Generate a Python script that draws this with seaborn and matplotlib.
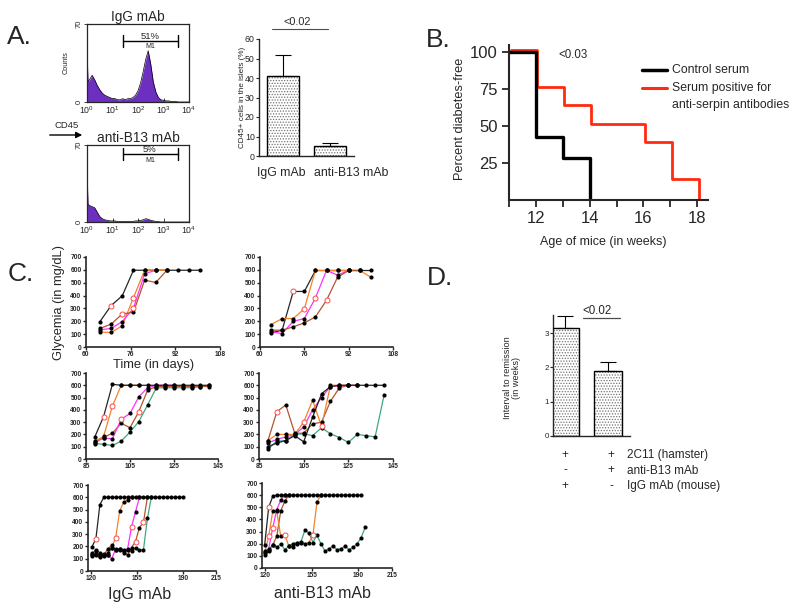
import numpy as np
import pandas as pd
import matplotlib
matplotlib.use("Agg")
import matplotlib.pyplot as plt
import seaborn as sns
from matplotlib.lines import Line2D
from matplotlib.patches import FancyArrowPatch, Rectangle
from matplotlib import transforms

nan = np.nan

# ---------------- Panel A: flow cytometry histograms ----------------
flow_log10 = [0.0, 0.04, 0.1, 0.2, 0.3, 0.4, 0.5, 0.6, 0.7, 0.8, 0.9, 1.0, 1.1, 1.2, 1.3,
              1.4, 1.5, 1.6, 1.7, 1.8, 1.9, 2.0, 2.1, 2.2, 2.3, 2.4, 2.5, 2.6, 2.7, 2.8,
              2.9, 3.0, 3.1, 3.2, 3.3, 3.4, 3.5, 3.6, 3.7, 3.8, 3.9, 4.0]
flow_igg = [50, 18, 20, 24, 20, 15, 11, 8, 6, 5, 4, 3, 3, 2, 2, 3, 2, 3, 3, 4, 6, 10,
            17, 27, 38, 46, 34, 18, 9, 4, 2, 1.5, 1, 1, 0.5, 0.5, 0.3, 0, 0, 0, 0, 0]
flow_b13 = [50, 16, 15, 14, 13, 9, 5, 3, 2, 1.5, 1, 1, 1, 0.5, 0.5, 0.5, 0.5, 0.5, 0.5,
            0.5, 1, 1, 1.5, 2, 3, 2.5, 1.5, 1, 0.5, 0.3, 0, 0, 0, 0, 0, 0, 0, 0, 0, 0, 0, 0]
flow_titles = ["IgG mAb", "anti-B13 mAb"]
flow_pct = ["51%", "5%"]

# Panel A bar chart
cd45_groups = ["IgG mAb", "anti-B13 mAb"]
cd45_mean = [41, 5]
cd45_err = [11, 1.5]

# ---------------- Panel B: survival ----------------
weeks_control = [11, 12, 13, 14]
free_control = [100, 42.9, 28.6, 0]
weeks_serpin = [11, 12, 13, 14, 16, 17, 18]
free_serpin = [100, 75, 62.5, 50, 37.5, 12.5, 0]

# ---------------- Panel C: glycemia ----------------
days_igg_1 = [65, 69, 73, 77, 81, 85, 89, 93, 97, 101]
igg_1_black = [198, 322, 399, 597, 597, 597, 597, 597, 597, 597]
igg_1_orange = [116, 113, 165, 384, 597, 597, 597, nan, nan, nan]
igg_1_magenta = [134, 144, 198, 301, 570, 597, nan, nan, nan, nan]
igg_1_brown = [144, 178, 257, 270, 520, 502, 597, nan, nan, nan]

days_b13_1 = [64, 68, 72, 76, 80, 84, 88, 92, 96, 100]
b13_1_black = [111, 131, 432, 432, 595, 595, 595, 595, 595, 595]
b13_1_orange = [175, 221, 221, 298, 595, 595, 595, 595, 595, 543]
b13_1_magenta = [118, 105, 200, 221, 381, 595, 560, 595, nan, nan]
b13_1_brown = [131, 131, 157, 188, 234, 363, 543, 595, 595, nan]

days_igg_2 = [89, 93, 97, 101, 105, 109, 113, 117, 121, 125, 129, 133, 137, 141]
igg_2_black = [180, 345, 608, 600, 600, 600, 600, 600, 600, 600, 600, 600, 600, 600]
igg_2_orange = [140, 185, 430, 600, 600, 600, nan, nan, nan, nan, nan, nan, nan, nan]
igg_2_magenta = [150, 170, 165, 323, 371, 506, 580, 600, 600, 600, nan, nan, nan, nan]
igg_2_brown = [130, 175, 210, 290, 255, 385, 560, 590, 590, 590, 590, 590, 590, 590]
igg_2_green = [125, 120, 110, 145, 220, 304, 440, 580, 580, 580, 580, 580, 590, 600]

days_b13_2 = [89, 93, 97, 101, 105, 109, 113, 117, 121, 125, 129, 133, 137, 141]
b13_2_black = [100, 130, 150, 190, 140, 340, 530, 590, 600, 600, 600, 600, 600, 600]
b13_2_orange = [150, 200, 200, 200, 300, 477, 266, 600, 600, 600, 600, nan, nan, nan]
b13_2_magenta = [130, 160, 180, 200, 260, 400, 500, 590, 595, 600, 600, nan, nan, nan]
b13_2_brown = [150, 385, 440, 210, 210, 285, 300, 470, 580, 600, nan, nan, nan, nan]
b13_2_green = [80, 145, 150, 200, 205, 190, 255, 205, 175, 135, 200, 190, 180, 520]

days_igg_3 = [121, 124, 127, 130, 133, 136, 139, 142, 145, 148, 151, 154, 157, 160,
              163, 166, 169, 172, 175, 178, 181, 184, 187, 190]
igg_3_black = [196, 264, 540, 600, 600, 600, 600, 600, 600, 600, 600, 600, 600, 600,
               600, 600, 600, 600, 600, 600, 600, 600, 600, 600]
igg_3_orange = [150, 160, 140, 130, 150, 190, 272, 490, 560, 580, 600, nan, nan, nan,
                nan, nan, nan, nan, nan, nan, nan, nan, nan, nan]
igg_3_magenta = [130, 140, 120, 140, 130, 100, 180, 170, 170, 180, 360, 482, 600, nan,
                 nan, nan, nan, nan, nan, nan, nan, nan, nan, nan]
igg_3_brown = [120, 130, 110, 130, 180, 210, 170, 180, 160, 130, 190, 240, 354, 395,
               600, nan, nan, nan, nan, nan, nan, nan, nan, nan]
igg_3_green = [140, 170, 150, 120, 130, 190, 170, 180, 150, 170, 160, 190, 170, 170,
               428, 600, nan, nan, nan, nan, nan, nan, nan, nan]

days_b13_3 = [120, 123, 126, 129, 132, 135, 138, 141, 144, 147, 150, 153, 156, 159,
              162, 165, 168, 171, 174, 177, 180, 183, 186, 189, 192, 195]
b13_3_black = [192, 500, 590, 600, 600, 600, 600, 600, 600, 600, 600, 600, 600, 600,
               600, 600, 600, 600, 600, 600, 600, 600, 600, 600, 600, nan]
b13_3_orange = [124, 261, 467, 467, 260, 275, 180, 170, 200, 210, 200, 210, 270, 543,
                600, nan, nan, nan, nan, nan, nan, nan, nan, nan, nan, nan]
b13_3_magenta = [130, 160, 330, 480, 560, 600, nan, nan, nan, nan, nan, nan, nan, nan,
                 nan, nan, nan, nan, nan, nan, nan, nan, nan, nan, nan, nan]
b13_3_brown = [110, 140, 190, 260, 470, 550, 600, nan, nan, nan, nan, nan, nan, nan,
               nan, nan, nan, nan, nan, nan, nan, nan, nan, nan, nan, nan]
b13_3_green = [140, 150, 190, 170, 200, 150, 180, 200, 210, 215, 310, 290, 210, 270,
               200, 140, 160, 180, 150, 160, 180, 150, 170, 200, 250, 335]

# indices of points drawn as open red circles
rings_igg_1 = {"black": [1], "orange": [3], "magenta": [3], "brown": [2]}
rings_b13_1 = {"black": [2], "orange": [3], "magenta": [4], "brown": [5]}
rings_igg_2 = {"black": [1], "orange": [2], "magenta": [3], "brown": [5]}
rings_b13_2 = {"orange": [4, 6], "brown": [1]}
rings_igg_3 = {"black": [1], "orange": [6], "magenta": [10], "brown": [11, 13]}
rings_b13_3 = {"black": [1], "orange": [1, 5, 12], "magenta": [2]}

# ---------------- Panel D ----------------
remission_groups = ["2C11 + IgG", "2C11 + anti-B13"]
remission_mean = [3.15, 1.9]
remission_err = [0.35, 0.25]
table_rows = ["2C11 (hamster)", "anti-B13 mAb", "IgG mAb (mouse)"]
table_igg = ["+", "-", "+"]
table_b13 = ["+", "+", "-"]

# ================= drawing =================
sns.set_theme(style="ticks")
plt.rcParams["font.family"] = ["Liberation Sans", "DejaVu Sans"]
plt.rcParams["hatch.linewidth"] = 0.6
plt.rcParams["axes.linewidth"] = 1.0

W, H = 800, 609
fig = plt.figure(figsize=(W / 100, H / 100), dpi=100)


def px_axes(x0, y0, x1, y1):
    return fig.add_axes([x0 / W, 1 - y1 / H, (x1 - x0) / W, (y1 - y0) / H])


def ptext(x, y, s, **kw):
    kw.setdefault("ha", "center")
    kw.setdefault("va", "center")
    return fig.text(x / W, 1 - y / H, s, **kw)


PURPLE = "#6c2fc0"

# ---- A histograms ----
hist_boxes = [(87, 24, 189, 102), (87, 145, 189, 222)]
for box, counts, title, pct in zip(hist_boxes, [flow_igg, flow_b13], flow_titles, flow_pct):
    ax = px_axes(*box)
    ax.set_xscale("log")
    xs = [10 ** v for v in flow_log10]
    ax.fill_between(xs, 0, counts, color=PURPLE, lw=0)
    sns.lineplot(x=xs, y=counts, color="black", lw=0.5, ax=ax, estimator=None, sort=False)
    ax.set_xlim(1, 1e4)
    ax.set_ylim(0, 70)
    ax.set_yticks([0, 70])
    ax.set_xticks([1, 10, 100, 1000, 10000])
    ax.tick_params(axis="x", which="both", direction="in", labelsize=6.3, pad=2, width=0.6)
    ax.tick_params(axis="x", which="major", length=3)
    ax.tick_params(axis="x", which="minor", length=1.5)
    ax.tick_params(axis="y", labelsize=5.5, length=2, width=0.6, pad=1)
    for t in ax.get_yticklabels():
        t.set_rotation(90)
        t.set_va("center")
    ax.set_ylabel("")
    for s in ax.spines.values():
        s.set_linewidth(0.9)
    ax.set_title(title, fontsize=9.8, pad=1.5)
    # M1 gate bracket
    by = 55 if pct == "51%" else 62
    g0, g1 = 10 ** 1.41, 10 ** 3.57
    ax.plot([g0, g1], [by, by], color="black", lw=1.0)
    ax.plot([g0, g0], [by - 6, by + 5], color="black", lw=1.0)
    ax.plot([g1, g1], [by - 6, by + 5], color="black", lw=1.0)
    gm = 10 ** 2.47
    ax.text(gm, by + 1.8, pct, ha="center", va="baseline", fontsize=6.8)
    ax.text(gm, by - 2.5, "M1", ha="center", va="top", fontsize=5)
ptext(66, 63, "Counts", rotation=90, fontsize=5.2)
ptext(67, 126, "CD45", fontsize=6.8)
fig.add_artist(FancyArrowPatch((47 / W, 1 - 135 / H), (85 / W, 1 - 135 / H),
                               transform=fig.transFigure, arrowstyle="-|>",
                               mutation_scale=9, lw=1.0, color="black"))
ptext(7, 37, "A.", fontsize=19, ha="left")

# ---- A bar chart ----
axA = px_axes(259, 39, 354, 156)
sns.barplot(x=cd45_groups, y=cd45_mean, ax=axA, color="white", width=0.68,
            edgecolor="0.45", linewidth=0, hatch="......")
for p in list(axA.patches):
    axA.add_patch(Rectangle(p.get_xy(), p.get_width(), p.get_height(), fill=False,
                            edgecolor="black", lw=1.0, zorder=3))
axA.errorbar(range(len(cd45_mean)), cd45_mean, yerr=[[0] * len(cd45_err), cd45_err],
             fmt="none", ecolor="black", elinewidth=0.8, capsize=5.5, capthick=0.8, zorder=2)
axA.set_xlim(-0.512, 1.512)
axA.set_ylim(0, 60)
axA.set_yticks([0, 10, 20, 30, 40, 50, 60])
axA.tick_params(axis="y", labelsize=6.3, length=2, width=0.8, pad=1)
axA.tick_params(axis="x", length=0, labelbottom=False)
sns.despine(ax=axA)
ptext(281, 173, cd45_groups[0], fontsize=8.8)
ptext(351, 173, cd45_groups[1], fontsize=8.8)
ptext(242, 97, "CD45+ cells in the islets (%)", rotation=90, fontsize=5.9)
ptext(297, 22, "<0.02", fontsize=7.8)
fig.add_artist(Line2D([272 / W, 328 / W], [1 - 29 / H, 1 - 29 / H], color="0.3", lw=0.8))

# ---- B survival ----
axB = px_axes(509, 45, 708, 200)
red_tr = transforms.offset_copy(axB.transData, fig=fig, x=1.5, y=2.5, units="dots")
sns.lineplot(x=weeks_serpin, y=free_serpin, drawstyle="steps-post", color="#ff2a10",
             lw=2.0, ax=axB, estimator=None, transform=red_tr)
sns.lineplot(x=weeks_control, y=free_control, drawstyle="steps-post", color="black",
             lw=2.4, ax=axB, estimator=None)
axB.set_xlim(11, 18.4)
axB.set_ylim(0, 105)
axB.set_yticks([25, 50, 75, 100])
axB.set_xticks([12, 14, 16, 18])
axB.set_xticks([11, 13, 15, 17], minor=True)
axB.tick_params(which="both", labelsize=12, length=5, width=1.3, pad=3)
for s in axB.spines.values():
    s.set_linewidth(1.5)
sns.despine(ax=axB)
ptext(603, 242, "Age of mice (in weeks)", fontsize=9)
ptext(460, 119, "Percent diabetes-free", rotation=90, fontsize=9.2)
ptext(573, 55, "<0.03", fontsize=8.3)
ptext(438, 40, "B.", fontsize=19)
fig.add_artist(Line2D([642 / W, 667 / W], [1 - 70 / H, 1 - 70 / H], color="black", lw=2.5))
fig.add_artist(Line2D([642 / W, 667 / W], [1 - 88 / H, 1 - 88 / H], color="#ff2a10", lw=2.2))
ptext(672, 70, "Control serum", ha="left", fontsize=8.8)
ptext(672, 88, "Serum positive for", ha="left", fontsize=8.8)
ptext(672, 105, "anti-serpin antibodies", ha="left", fontsize=8.8)

# ---- C glycemia ----
LINE = {"black": "#262626", "orange": "#f5822a", "magenta": "#ff30ff",
        "brown": "#b4552d", "green": "#3fa883"}


def glyc_panel(box, days, series, rings, xlim, xticks):
    ax = px_axes(*box)
    for name, vals in series.items():
        df = pd.DataFrame({"day": days, "glu": vals})
        df["ring"] = False
        df.loc[rings.get(name, []), "ring"] = True
        df = df.dropna()
        sns.lineplot(data=df, x="day", y="glu", color=LINE[name], lw=0.9, ax=ax,
                     estimator=None, sort=False)
        dots = df[~df["ring"]]
        sns.scatterplot(data=dots, x="day", y="glu", color="black", s=9, linewidth=0,
                        ax=ax, zorder=3, legend=False)
        rg = df[df["ring"]]
        if len(rg):
            sns.scatterplot(data=rg, x="day", y="glu", color="white", edgecolor="#ff4b4b",
                            s=13, linewidth=0.7, ax=ax, zorder=4, legend=False)
    ax.set_xlim(*xlim)
    ax.set_ylim(0, 700)
    ax.set_xticks(xticks)
    ax.set_yticks(range(0, 701, 100))
    ax.set_xlabel("")
    ax.set_ylabel("")
    ax.tick_params(labelsize=4.8, length=2, width=1.0, pad=1.2)
    for lab in ax.get_xticklabels() + ax.get_yticklabels():
        lab.set_fontweight("bold")
    for s in ax.spines.values():
        s.set_linewidth(1.2)
    sns.despine(ax=ax)
    return ax


glyc_panel((86, 257, 220, 347), days_igg_1,
           {"black": igg_1_black, "orange": igg_1_orange, "magenta": igg_1_magenta,
            "brown": igg_1_brown}, rings_igg_1, (60, 108), [60, 76, 92, 108])
glyc_panel((260, 257, 393, 347), days_b13_1,
           {"black": b13_1_black, "orange": b13_1_orange, "magenta": b13_1_magenta,
            "brown": b13_1_brown}, rings_b13_1, (60, 108), [60, 76, 92, 108])
glyc_panel((86, 373, 218, 459), days_igg_2,
           {"green": igg_2_green, "brown": igg_2_brown, "magenta": igg_2_magenta,
            "orange": igg_2_orange, "black": igg_2_black}, rings_igg_2, (85, 145),
           [85, 105, 125, 145])
glyc_panel((259, 373, 393, 459), days_b13_2,
           {"green": b13_2_green, "brown": b13_2_brown, "magenta": b13_2_magenta,
            "orange": b13_2_orange, "black": b13_2_black}, rings_b13_2, (85, 145),
           [85, 105, 125, 145])
glyc_panel((88, 485, 216, 571), days_igg_3,
           {"green": igg_3_green, "brown": igg_3_brown, "magenta": igg_3_magenta,
            "orange": igg_3_orange, "black": igg_3_black}, rings_igg_3, (118, 215),
           [120, 155, 190, 215])
glyc_panel((262, 483, 392, 568), days_b13_3,
           {"green": b13_3_green, "brown": b13_3_brown, "magenta": b13_3_magenta,
            "orange": b13_3_orange, "black": b13_3_black}, rings_b13_3, (118, 215),
           [120, 155, 190, 215])
ptext(154, 365, "Time (in days)", fontsize=9.3)
ptext(59, 302, "Glycemia (in mg/dL)", rotation=90, fontsize=9.3)
ptext(140, 595, "IgG mAb", fontsize=11.5)
ptext(322, 594, "anti-B13 mAb", fontsize=11.5)
ptext(8, 274, "C.", fontsize=19, ha="left")

# ---- D ----
axD = px_axes(553, 315, 630, 436)
sns.barplot(x=remission_groups, y=remission_mean, ax=axD, color="white", width=0.66,
            edgecolor="0.45", linewidth=0, hatch="......")
for p in list(axD.patches):
    axD.add_patch(Rectangle(p.get_xy(), p.get_width(), p.get_height(), fill=False,
                            edgecolor="black", lw=1.0, zorder=3))
axD.errorbar(range(len(remission_mean)), remission_mean,
             yerr=[[0] * len(remission_err), remission_err], fmt="none", ecolor="black",
             elinewidth=0.8, capsize=5.5, capthick=0.8, zorder=2)
axD.set_xlim(-0.28, 1.51)
axD.set_ylim(0, 3.53)
axD.set_yticks([0, 1, 2, 3])
axD.set_xticks([])
axD.tick_params(axis="y", labelsize=5.8, length=2, width=0.8, pad=1)
sns.despine(ax=axD)
ptext(512, 378, "Interval to remission\n(in weeks)", rotation=90, fontsize=6.6,
      multialignment="center", linespacing=1.1)
ptext(597, 311, "<0.02", fontsize=8.3)
fig.add_artist(Line2D([583 / W, 620 / W], [1 - 318 / H, 1 - 318 / H], color="0.3", lw=0.9))
for i, (lab, a, b) in enumerate(zip(table_rows, table_igg, table_b13)):
    y = 455 + 15.5 * i
    ptext(565, y, a, fontsize=8.5)
    ptext(611, y, b, fontsize=8.5)
    ptext(627, y, lab, ha="left", fontsize=8.5)
ptext(427, 278, "D.", fontsize=19, ha="left")

fig.savefig("out.png", dpi=100)
